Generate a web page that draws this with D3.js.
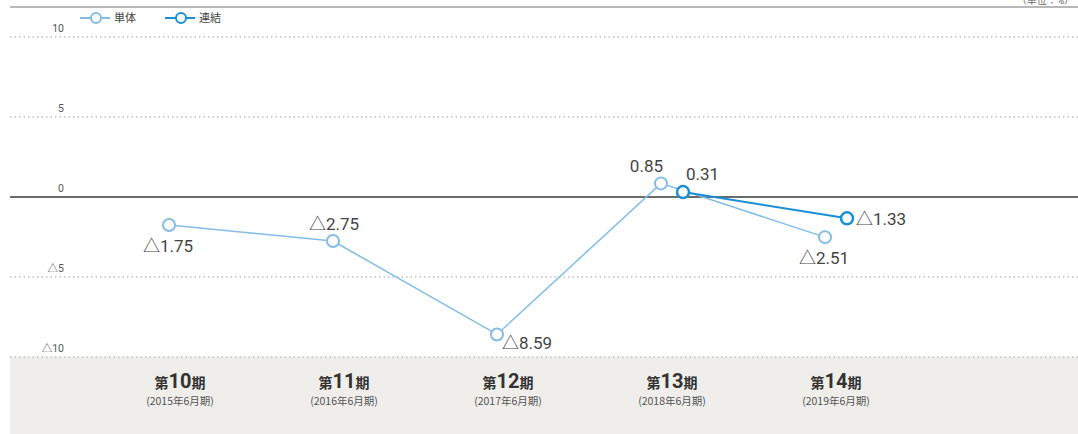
<!DOCTYPE html>
<html lang="ja">
<head>
<meta charset="utf-8" />
<title>経常利益率</title>
<style>
  body { margin: 0; background: #fff; }
  svg { display: block; font-family: Roboto, "Noto Sans CJK JP", sans-serif; }
  .grid { stroke: #bdbdbd; stroke-width: 1.5px; stroke-dasharray: 1.5 3; }
  .tick-label { font-size: 10.5px; fill: #555; }
  .val { font-size: 17px; fill: #444; }
</style>
</head>
<body>
<script src="https://cdn.jsdelivr.net/npm/d3@7"></script>
<script>
  const categories = ["第10期", "第11期", "第12期", "第13期", "第14期"];
  const categoryNums = ["10", "11", "12", "13", "14"];
  const periods = ["(2015年6月期)", "(2016年6月期)", "(2017年6月期)", "(2018年6月期)", "(2019年6月期)"];
  const seriesNames = ["単体", "連結"];
  const tanntai = [-1.75, -2.75, -8.59, 0.85, -2.51];
  const renketsu = [null, null, null, 0.31, -1.33];
  const yTicks = [10, 5, 0, -5, -10];
  // where each value label sits
  const tanntaiPlace = ["below", "above", "belowRight", "aboveLeft", "below"];
  const renketsuPlace = [null, null, null, "aboveRight", "right"];

  const width = 1078, height = 434;
  const colors = { "単体": "#82bde8", "連結": "#1b8ed8" };

  const svg = d3.select("body").append("svg")
    .attr("width", width).attr("height", height);

  const x = d3.scalePoint().domain(categories).range([180, 836]);
  const off = d3.scalePoint().domain(seriesNames).range([-11, 11]);
  const y = d3.scaleLinear().domain([-10, 10]).range([357, 37]);

  // bottom band
  svg.append("rect")
    .attr("x", 10).attr("y", y(-10)).attr("width", width - 10).attr("height", height - y(-10))
    .attr("fill", "#efeeea");

  // top rule + unit
  svg.append("line").attr("x1", 10).attr("x2", width).attr("y1", 7).attr("y2", 7)
    .attr("stroke", "#a0a0a0").attr("stroke-width", 1.5);
  svg.append("text").attr("x", width - 4).attr("y", 4).attr("text-anchor", "end")
    .attr("font-size", 10).attr("fill", "#666").text("（単位：%）");

  // grid
  svg.selectAll("line.grid").data(yTicks.filter(d => d !== 0)).join("line")
    .attr("class", "grid")
    .attr("x1", 10).attr("x2", width)
    .attr("y1", d => y(d)).attr("y2", d => y(d));

  svg.append("line").attr("x1", 10).attr("x2", width).attr("y1", y(0)).attr("y2", y(0))
    .attr("stroke", "#6b6b6b").attr("stroke-width", 2);

  const fmt = v => v < 0 ? "△" + Math.abs(v) : String(v);
  svg.selectAll("text.tick-label").data(yTicks).join("text")
    .attr("class", "tick-label")
    .attr("x", 64).attr("y", d => y(d) - 5)
    .attr("text-anchor", "end")
    .text(fmt);

  // x labels
  const xl = svg.selectAll("g.xl").data(categories).join("g")
    .attr("class", "xl")
    .attr("transform", d => `translate(${x(d)},0)`);
  const t1 = xl.append("text").attr("y", 388).attr("text-anchor", "middle")
    .attr("font-weight", "bold").attr("fill", "#333");
  t1.append("tspan").attr("font-size", 14).attr("font-family", "'Noto Sans CJK JP'").text("第");
  t1.append("tspan").attr("font-size", 20).attr("font-family", "Roboto").text((d, i) => categoryNums[i]);
  t1.append("tspan").attr("font-size", 14).attr("font-family", "'Noto Sans CJK JP'").text("期");
  xl.append("text").attr("y", 405).attr("text-anchor", "middle")
    .attr("font-size", 10.5).attr("fill", "#555")
    .attr("font-family", "'Noto Sans CJK JP'")
    .text((d, i) => periods[i]);

  // series
  const series = [
    { name: "単体", values: tanntai, place: tanntaiPlace, width: 1.5 },
    { name: "連結", values: renketsu, place: renketsuPlace, width: 2 }
  ];

  const line = d3.line()
    .defined(d => d.v != null)
    .x(d => x(d.c) + off(d.s))
    .y(d => y(d.v));

  series.forEach(s => {
    const pts = categories.map((c, i) => ({ c, v: s.values[i], s: s.name, p: s.place[i] }));
    svg.append("path").datum(pts)
      .attr("fill", "none").attr("stroke", colors[s.name]).attr("stroke-width", s.width)
      .attr("d", line);
    const valid = pts.filter(d => d.v != null);
    svg.selectAll(null).data(valid).join("circle")
      .attr("cx", d => x(d.c) + off(d.s)).attr("cy", d => y(d.v)).attr("r", 6)
      .attr("fill", "#fff").attr("stroke", colors[s.name]).attr("stroke-width", s.width + 0.5);
    svg.selectAll(null).data(valid).join("text")
      .attr("class", "val")
      .attr("x", d => {
        const px = x(d.c) + off(d.s);
        return { below: px - 1, above: px + 1, belowRight: px + 5, aboveLeft: px + 2, aboveRight: px + 3, right: px + 9 }[d.p];
      })
      .attr("y", d => {
        const py = y(d.v);
        return { below: py + 27, above: py - 11, belowRight: py + 15, aboveLeft: py - 11, aboveRight: py - 12, right: py + 7 }[d.p];
      })
      .attr("text-anchor", d => ({ below: "middle", above: "middle", belowRight: "start", aboveLeft: "end", aboveRight: "start", right: "start" }[d.p]))
      .text(d => d.v < 0 ? "△" + Math.abs(d.v).toFixed(2) : d.v.toFixed(2));
  });

  // legend
  const lg = svg.selectAll("g.lg").data(seriesNames).join("g")
    .attr("class", "lg")
    .attr("transform", (d, i) => `translate(${80 + i * 85},18)`);
  lg.append("line").attr("x1", 0).attr("x2", 30).attr("stroke", d => colors[d]).attr("stroke-width", 2);
  lg.append("circle").attr("cx", 16).attr("r", 5).attr("fill", "#fff")
    .attr("stroke", d => colors[d]).attr("stroke-width", 2);
  lg.append("text").attr("x", 34).attr("y", 4).attr("font-size", 11).attr("fill", "#444")
    .attr("font-family", "'Noto Sans CJK JP'").text(d => d);
</script>
</body>
</html>
